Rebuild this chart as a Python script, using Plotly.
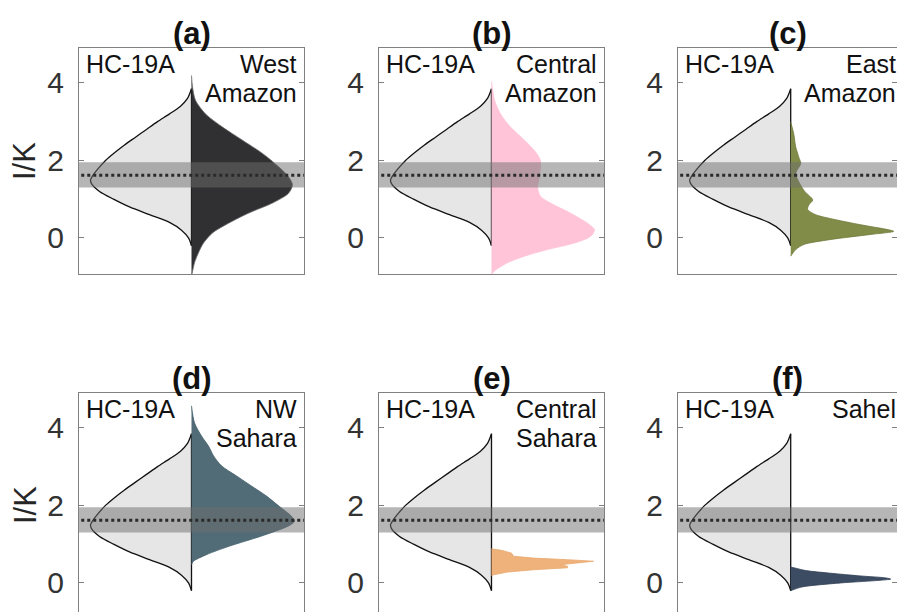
import plotly.graph_objects as go

# ---------------- data ----------------
PANEL_TITLES = ["(a)", "(b)", "(c)", "(d)", "(e)", "(f)"]
REGION_LINE1 = ["West", "Central", "East", "NW", "Central", "Sahel"]
REGION_LINE2 = ["Amazon", "Amazon", "Amazon", "Sahara", "Sahara", ""]
REF_LABEL = "HC-19A"
TICK_VALS = [0, 2, 4]
BAND_LOW, BAND_HIGH = 1.3, 1.95
BAND_MID = 1.62

# HC-19A density half-width profile (same in every panel)
HC_Y = [-0.2, 0.0, 0.2, 0.4, 0.6, 0.8, 1.0, 1.2, 1.4, 1.5, 1.6, 1.8, 2.0, 2.2,
        2.4, 2.6, 2.8, 3.0, 3.2, 3.4, 3.6, 3.85]
HC_W = [0.0, 0.03, 0.1, 0.22, 0.42, 0.62, 0.78, 0.92, 1.0, 1.01, 0.99, 0.93,
        0.86, 0.77, 0.67, 0.56, 0.45, 0.34, 0.22, 0.11, 0.04, 0.0]

WA_Y = [-1.0, -0.64, -0.38, -0.13, 0.13, 0.38, 0.64, 0.9, 1.15, 1.37, 1.58,
        1.84, 2.18, 2.52, 2.86, 3.2, 3.55, 3.9, 4.19]
WA_W = [0.0, 0.03, 0.07, 0.12, 0.21, 0.37, 0.57, 0.81, 0.97, 1.01, 0.97,
        0.87, 0.71, 0.51, 0.31, 0.14, 0.04, 0.01, 0.0]

CA_Y = [-0.95, -0.85, -0.64, -0.47, -0.3, -0.13, 0.04, 0.21, 0.38, 0.64, 0.9,
        1.07, 1.32, 1.58, 1.84, 2.0, 2.22, 2.52, 2.86, 3.2, 3.55, 4.04]
CA_W = [0.0, 0.03, 0.16, 0.33, 0.56, 0.83, 0.99, 1.03, 0.96, 0.79, 0.59,
        0.49, 0.46, 0.48, 0.49, 0.49, 0.44, 0.33, 0.19, 0.09, 0.03, 0.0]

EA_Y = [-0.47, -0.3, -0.17, -0.04, 0.09, 0.17, 0.21, 0.34, 0.47, 0.6, 0.73,
        0.85, 0.98, 1.2, 1.45, 1.67, 1.92, 2.09, 2.35, 2.69, 2.99]
EA_W = [0.0, 0.05, 0.13, 0.4, 0.8, 1.03, 0.98, 0.7, 0.45, 0.25, 0.17, 0.18,
        0.22, 0.14, 0.08, 0.05, 0.1, 0.08, 0.05, 0.03, 0.0]

NS_Y = [0.47, 0.56, 0.73, 0.95, 1.21, 1.47, 1.59, 1.72, 1.97, 2.24, 2.5, 2.76,
        3.02, 3.28, 3.53, 3.79, 4.13, 4.57]
NS_W = [0.0, 0.02, 0.15, 0.38, 0.7, 0.97, 1.03, 1.0, 0.88, 0.75, 0.6, 0.45,
        0.3, 0.22, 0.17, 0.1, 0.03, 0.0]

CS_Y = [0.19, 0.21, 0.28, 0.34, 0.39, 0.43, 0.47, 0.52, 0.56, 0.6, 0.64, 0.69,
        0.77, 0.84, 0.88]
CS_W = [0.0, 0.02, 0.16, 0.42, 0.76, 0.76, 0.69, 0.92, 1.02, 0.76, 0.42, 0.22,
        0.2, 0.1, 0.0]

SH_Y = [-0.2, -0.17, -0.1, 0.0, 0.06, 0.1, 0.13, 0.18, 0.25, 0.32, 0.38, 0.41]
SH_W = [0.0, 0.03, 0.12, 0.5, 0.85, 1.0, 0.95, 0.7, 0.4, 0.15, 0.05, 0.0]

REGION_Y = [WA_Y, CA_Y, EA_Y, NS_Y, CS_Y, SH_Y]
REGION_W = [WA_W, CA_W, EA_W, NS_W, CS_W, SH_W]
REGION_FILL = ["#303033", "#ffc4d8", "#818c48", "#516c77", "#efb27b", "#3c4c63"]
REGION_LINE = ["#6a6a6a", "#ffc4d8", "#6c7838", "#44606b", "#e9a86e", "#2f3d52"]
REGION_SHAPE = ["spline", "spline", "spline", "spline", "linear", "spline"]

# ---------------- layout geometry ----------------
W, H = 897, 612
X_DOMAINS = [(79 / W, 304 / W), (379 / W, 604 / W), (678 / W, 1.0)]
X_RANGES = [(-1.125, 1.125), (-1.125, 1.125), (-1.127, 1.063)]
Y_DOMAINS = [(1 - 274 / H, 1 - 48 / H), (0.0, 1 - 393 / H)]
Y_RANGES = [(-0.93, 4.9), (-0.75, 4.9)]

FONT = "Liberation Sans, Arial, sans-serif"
LABEL_SIZE = 25
fig = go.Figure()

layout = dict(
    width=W, height=H,
    margin=dict(l=0, r=0, t=0, b=0),
    paper_bgcolor="white", plot_bgcolor="white",
    showlegend=False,
    font=dict(family=FONT, color="#262626"),
)
annotations = []
shapes = []

for i in range(6):
    row, col = divmod(i, 3)
    ax = "" if i == 0 else str(i + 1)
    xa, ya = "x" + ax, "y" + ax

    # HC-19A left half
    fig.add_trace(go.Scatter(
        x=[-w for w in HC_W], y=HC_Y, xaxis=xa, yaxis=ya,
        mode="lines", fill="toself", fillcolor="#e6e6e6",
        line=dict(color="#111111", width=1.3, shape="spline", smoothing=0.8),
        hoverinfo="skip"))
    fig.add_trace(go.Scatter(
        x=[0, 0], y=[HC_Y[0], HC_Y[-1]], xaxis=xa, yaxis=ya,
        mode="lines", line=dict(color="#111111", width=1.3), hoverinfo="skip"))
    # region right half
    fig.add_trace(go.Scatter(
        x=REGION_W[i], y=REGION_Y[i], xaxis=xa, yaxis=ya,
        mode="lines", fill="toself", fillcolor=REGION_FILL[i],
        line=dict(color=REGION_LINE[i], width=0.8, shape=REGION_SHAPE[i],
                  smoothing=0.8),
        hoverinfo="skip"))

    layout["xaxis" + ax] = dict(
        domain=list(X_DOMAINS[col]), range=list(X_RANGES[col]),
        anchor=ya, showgrid=False, zeroline=False, showticklabels=False,
        ticks="", showline=True, mirror=True, linecolor="#808080",
        linewidth=1, fixedrange=True)
    layout["yaxis" + ax] = dict(
        domain=list(Y_DOMAINS[row]), range=list(Y_RANGES[row]),
        anchor=xa, showgrid=False, zeroline=False, tickvals=TICK_VALS,
        ticks="inside", ticklen=5, tickcolor="#808080", tickwidth=1,
        showline=True, mirror="ticks", linecolor="#808080", linewidth=1,
        tickfont=dict(size=30, color="#333333", family=FONT),
        ticklabelstandoff=8, fixedrange=True)

    # uncertainty band and dotted mean line
    shapes.append(dict(type="rect", xref=xa + " domain", yref=ya,
                       x0=0, x1=1, y0=BAND_LOW, y1=BAND_HIGH,
                       fillcolor="rgba(110,110,110,0.5)", line=dict(width=0),
                       layer="above"))
    shapes.append(dict(type="line", xref=xa + " domain", yref=ya,
                       x0=0.01, x1=1, y0=BAND_MID, y1=BAND_MID,
                       line=dict(color="#2a2a2a", width=3, dash="dot"),
                       layer="above"))

    # panel title
    annotations.append(dict(text="<b>" + PANEL_TITLES[i] + "</b>",
                            xref=xa + " domain", yref=ya + " domain",
                            x=0.5, y=1, xanchor="center", yanchor="bottom",
                            yshift=-5, showarrow=False,
                            font=dict(size=31, color="#111111", family=FONT)))
    # labels inside
    annotations.append(dict(text=REF_LABEL, xref=xa + " domain",
                            yref=ya + " domain", x=0, y=1, xanchor="left",
                            yanchor="top", xshift=5, yshift=0,
                            showarrow=False,
                            font=dict(size=LABEL_SIZE, color="#111111",
                                      family=FONT)))
    xs = -5 if col < 2 else 1
    for k, txt in enumerate([REGION_LINE1[i], REGION_LINE2[i]]):
        if not txt:
            continue
        annotations.append(dict(text=txt, xref=xa + " domain",
                                yref=ya + " domain", x=1, y=1,
                                xanchor="right", yanchor="top", xshift=xs,
                                yshift=-29 * k, align="right", showarrow=False,
                                font=dict(size=LABEL_SIZE, color="#111111",
                                          family=FONT)))

# y-axis titles
for yc in [1 - 161 / H, 1 - 505 / H]:
    annotations.append(dict(text="I/K", xref="paper", yref="paper",
                            x=25 / W, y=yc, xanchor="center", yanchor="middle",
                            textangle=-90, showarrow=False,
                            font=dict(size=31, color="#262626", family=FONT)))

layout["annotations"] = annotations
layout["shapes"] = shapes
fig.update_layout(**layout)
fig.write_html("out.html", config={"displayModeBar": False})
